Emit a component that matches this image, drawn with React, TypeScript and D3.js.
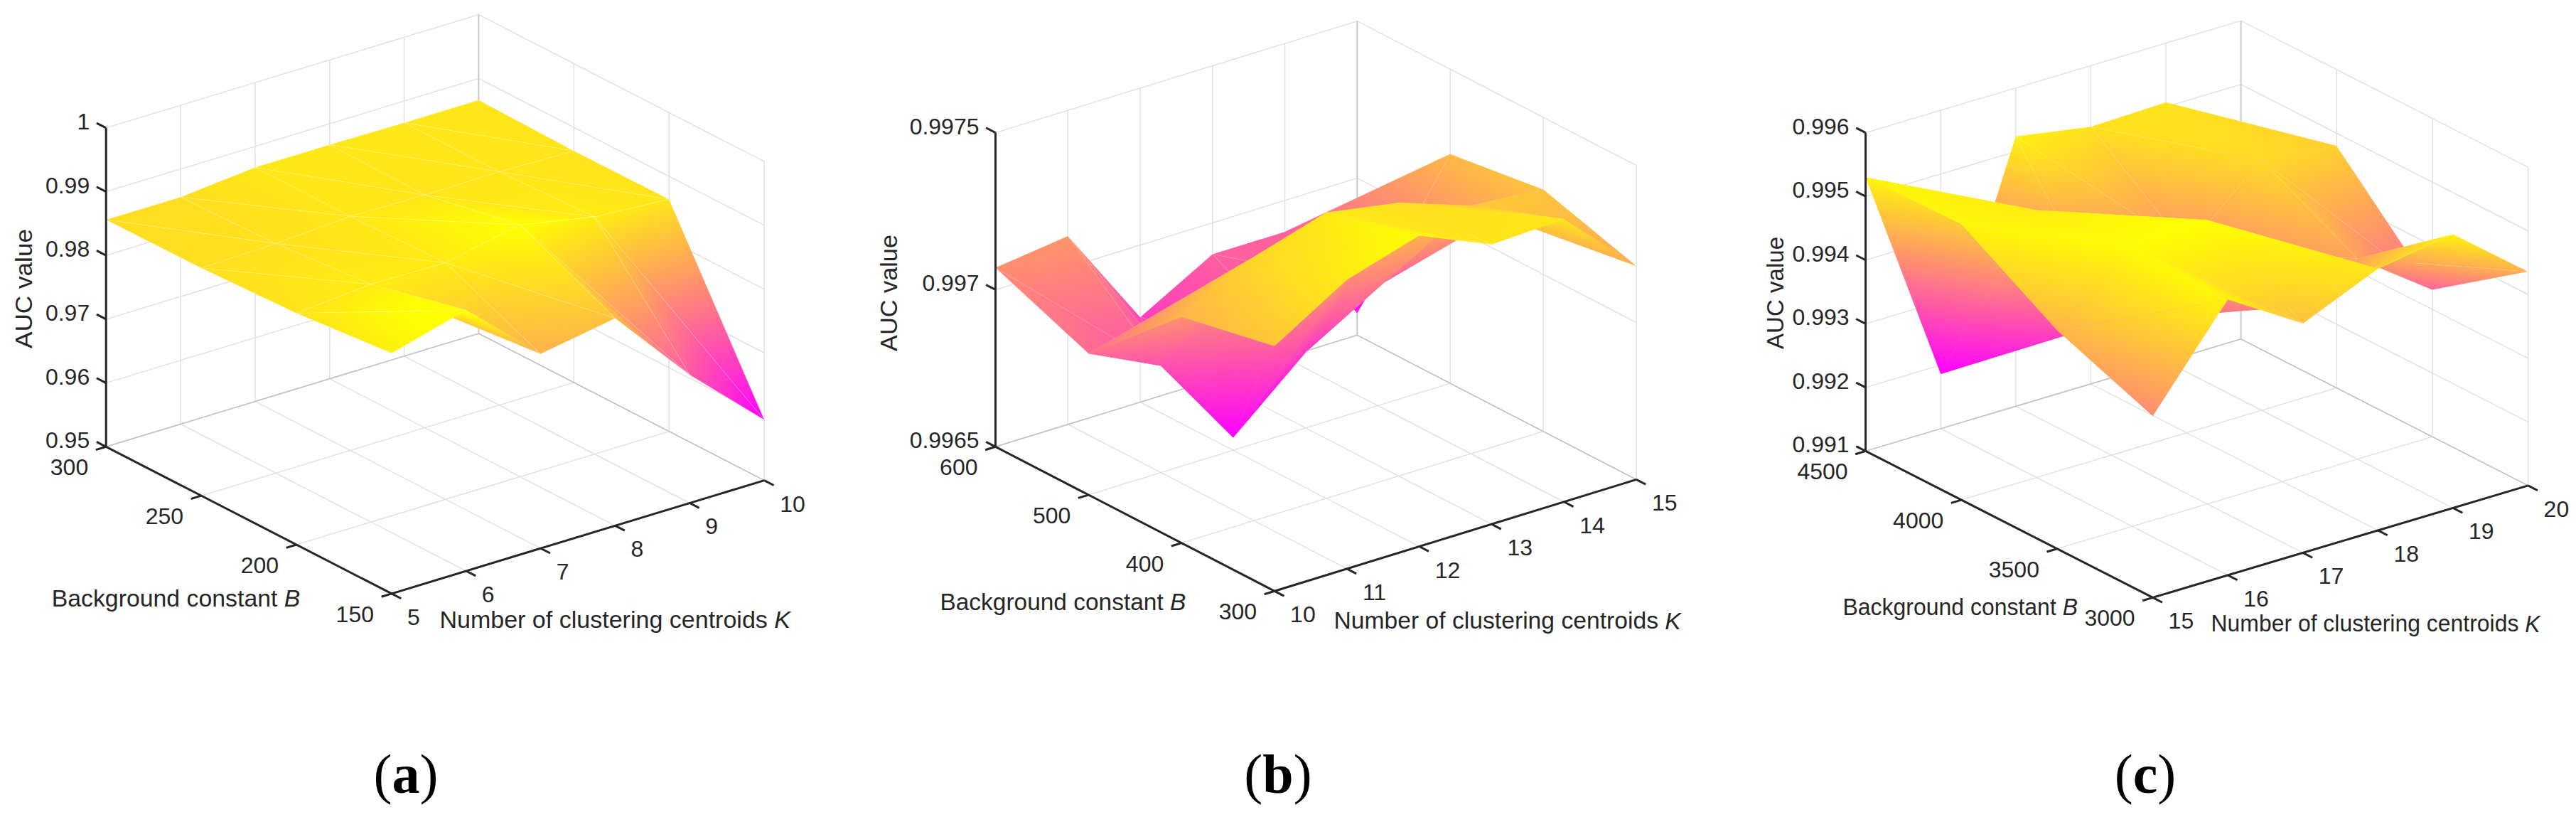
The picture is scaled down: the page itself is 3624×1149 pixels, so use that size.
import * as d3 from "d3";

// values: rows run from the largest B down to the smallest, columns along K
const kValuesA = [5, 6, 7, 8, 9, 10];
const bValuesA = [300, 250, 200, 150];
const zTicksA = [0.95, 0.96, 0.97, 0.98, 0.99, 1];
const zLabelsA = ["0.95", "0.96", "0.97", "0.98", "0.99", "1"];
const aucA = [
	[0.9856, 0.9856, 0.9867, 0.9867, 0.9866, 0.9866],
	[0.9857, 0.986, 0.9867, 0.9865, 0.9866, 0.9863],
	[0.9863, 0.9873, 0.9871, 0.9895, 0.9872, 0.9864],
	[0.9877, 0.9909, 0.9805, 0.9825, 0.9701, 0.9595],
];

const kValuesB = [10, 11, 12, 13, 14, 15];
const bValuesB = [600, 500, 400, 300];
const zTicksB = [0.9965, 0.997, 0.9975];
const zLabelsB = ["0.9965", "0.997", "0.9975"];
const aucB = [
	[0.99707, 0.9971, 0.99677, 0.9969, 0.9969, 0.99657],
	[0.99695, 0.99684, 0.99654, 0.99674, 0.99688, 0.99723],
	[0.99722, 0.99734, 0.99741, 0.99737, 0.99729, 0.99727],
	[0.99728, 0.99742, 0.99749, 0.99739, 0.9974, 0.99718],
];

const kValuesC = [15, 16, 17, 18, 19, 20];
const bValuesC = [4500, 4000, 3500, 3000];
const zTicksC = [0.991, 0.992, 0.993, 0.994, 0.995, 0.996];
const zLabelsC = ["0.991", "0.992", "0.993", "0.994", "0.995", "0.996"];
const aucC = [
	[0.9953, 0.99186, 0.99524, 0.99504, 0.99507, 0.99348],
	[0.99533, 0.9952, 0.9931, 0.9939, 0.99493, 0.9948],
	[0.99443, 0.99542, 0.99546, 0.99373, 0.99415, 0.99331],
	[0.99385, 0.99533, 0.9946, 0.99511, 0.9953, 0.99436],
];

const panels = [
	{
		id: "a", ks: kValuesA, bs: bValuesA, zTicks: zTicksA, zLabels: zLabelsA, auc: aucA,
		colorDomain: [0.9595, 0.9895], seam: 0.22,
		origin: [551, 834.9], vK: [524.2, -159.3], vB: [-401.8, -206.6], vZ: 448.4,
		bTitle: [72.7, 841, 349.7], kTitle: [618.4, 871, 493.6], yTitle: [33, 406, 168], caption: 571,
	},
	{
		id: "b", ks: kValuesB, bs: bValuesB, zTicks: zTicksB, zLabels: zLabelsB, auc: aucB,
		colorDomain: [0.99654, 0.99749], seam: 0.08,
		origin: [1793.1, 831.3], vK: [508.9, -156.9], vB: [-392.6, -203], vZ: 441.7,
		bTitle: [1322.4, 846.4, 346], kTitle: [1876.5, 872.5, 488.3], yTitle: [1250, 412, 164], caption: 1798,
	},
	{
		id: "c", ks: kValuesC, bs: bValuesC, zTicks: zTicksC, zLabels: zLabelsC, auc: aucC,
		colorDomain: [0.99186, 0.99546], seam: 0.08,
		origin: [3028.6, 840.4], vK: [528, -157.5], vB: [-404, -206], vZ: 447.7,
		bTitle: [2592.4, 853, 330.6], kTitle: [3110.5, 876.7, 463], yTitle: [2497, 412, 158], caption: 3018,
	},
];

const ink = "#262626";
const gridColor = "#e2e2e2";
const backEdge = "#c4c4c4";
const fontFamily = "'Liberation Sans', Arial, sans-serif";
const tickFont = 32;
const titleFont = 33;
const spring = d3.interpolateRgb("#ff00ff", "#ffff00");
const line = d3.line();

// turns a triangle with a height colour at each corner into a userSpace linear gradient
const triangleGradient = (pts, ts) => {
	const [[x0, y0], [x1, y1], [x2, y2]] = pts;
	const det = (x1 - x0) * (y2 - y0) - (x2 - x0) * (y1 - y0);
	if (Math.abs(det) < 1e-6) return null;
	const a = ((ts[1] - ts[0]) * (y2 - y0) - (ts[2] - ts[0]) * (y1 - y0)) / det;
	const b = ((ts[2] - ts[0]) * (x1 - x0) - (ts[1] - ts[0]) * (x2 - x0)) / det;
	const len = a * a + b * b;
	if (len < 1e-12) return null;
	return {
		x1: x0 - (a * ts[0]) / len,
		y1: y0 - (b * ts[0]) / len,
		x2: x0 + (a * (1 - ts[0])) / len,
		y2: y0 + (b * (1 - ts[0])) / len,
	};
};

const Panel = ({p}) => {
	const kScale = d3.scaleLinear().domain(d3.extent(p.ks)).range([0, 1]);
	const bScale = d3.scaleLinear().domain(d3.extent(p.bs)).range([0, 1]);
	const zScale = d3.scaleLinear().domain(d3.extent(p.zTicks)).range([0, 1]);
	const colorScale = d3.scaleLinear().domain(p.colorDomain).range([0, 1]);

	const project = (k, b, z) => {
		const u = kScale(k);
		const v = bScale(b);
		return [
			p.origin[0] + u * p.vK[0] + v * p.vB[0],
			p.origin[1] + u * p.vK[1] + v * p.vB[1] - zScale(z) * p.vZ,
		];
	};

	const kMin = p.ks[0];
	const kMax = p.ks[p.ks.length - 1];
	const bMax = p.bs[0];
	const bMin = p.bs[p.bs.length - 1];
	const zMin = p.zTicks[0];
	const zMax = p.zTicks[p.zTicks.length - 1];

	const grid = [];
	p.ks.forEach((k) => {
		grid.push([project(k, bMin, zMin), project(k, bMax, zMin)]);
		grid.push([project(k, bMax, zMin), project(k, bMax, zMax)]);
	});
	p.bs.forEach((b) => {
		grid.push([project(kMin, b, zMin), project(kMax, b, zMin)]);
		grid.push([project(kMax, b, zMin), project(kMax, b, zMax)]);
	});
	p.zTicks.forEach((z) => {
		grid.push([project(kMin, bMax, z), project(kMax, bMax, z), project(kMax, bMin, z)]);
	});

	// back to front: far K first, far B first, and the far half of each cell first
	const triangles = [];
	for (let j = 0; j < p.bs.length - 1; j++) {
		for (let i = p.ks.length - 2; i >= 0; i--) {
			const corner = (ci, cj) => ({
				pt: project(p.ks[ci], p.bs[cj], p.auc[cj][ci]),
				t: colorScale(p.auc[cj][ci]),
			});
			const a = corner(i, j);
			const b = corner(i + 1, j);
			const c = corner(i + 1, j + 1);
			const d = corner(i, j + 1);
			triangles.push([a, b, c], [a, d, c]);
		}
	}

	const kDir = Math.hypot(p.vK[0], p.vK[1]);
	const bDir = Math.hypot(p.vB[0], p.vB[1]);
	const tickLen = 15;
	const alongB = [(p.vB[0] / bDir) * tickLen, (p.vB[1] / bDir) * tickLen];
	const alongK = [(p.vK[0] / kDir) * tickLen, (p.vK[1] / kDir) * tickLen];

	const zTickMarks = p.zTicks.map((z) => {
		const pt = project(kMin, bMax, z);
		return {pt, end: [pt[0] + alongB[0], pt[1] + alongB[1]]};
	});
	const bTickMarks = p.bs.map((b) => {
		const pt = project(kMin, b, zMin);
		return {b, pt, end: [pt[0] - alongK[0], pt[1] - alongK[1]]};
	});
	const kTickMarks = p.ks.map((k) => {
		const pt = project(k, bMin, zMin);
		return {k, pt, end: [pt[0] - alongB[0], pt[1] - alongB[1]]};
	});

	return (
		<g fontFamily={fontFamily} fill={ink}>
			<g fill="none" stroke={gridColor} strokeWidth={1.5}>
				{grid.map((g, i) => (
					<path key={i} d={line(g)} />
				))}
			</g>
			<path
				d={line([project(kMin, bMax, zMin), project(kMax, bMax, zMin), project(kMax, bMin, zMin)])}
				fill="none"
				stroke={backEdge}
				strokeWidth={1.5}
			/>
			<path
				d={line([project(kMax, bMax, zMin), project(kMax, bMax, zMax)])}
				fill="none"
				stroke={backEdge}
				strokeWidth={1.5}
			/>

			<defs>
				{triangles.map((tri, i) => {
					const g = triangleGradient(tri.map((c) => c.pt), tri.map((c) => c.t));
					if (!g) return null;
					return (
						<linearGradient key={i} id={`${p.id}-tri-${i}`} gradientUnits="userSpaceOnUse" {...g}>
							<stop offset="0" stopColor={spring(0)} />
							<stop offset="1" stopColor={spring(1)} />
						</linearGradient>
					);
				})}
			</defs>
			{triangles.map((tri, i) => {
				const g = triangleGradient(tri.map((c) => c.pt), tri.map((c) => c.t));
				const fill = g ? `url(#${p.id}-tri-${i})` : spring(d3.mean(tri, (c) => c.t));
				return (
					<path
						key={i}
						d={line(tri.map((c) => c.pt)) + "Z"}
						fill={fill}
						stroke="#fff"
						strokeOpacity={p.seam}
						strokeWidth={0.7}
					/>
				);
			})}

			<g fill="none" stroke={ink} strokeWidth={3}>
				<path d={line([project(kMin, bMax, zMax), project(kMin, bMax, zMin), project(kMin, bMin, zMin), project(kMax, bMin, zMin)])} />
				{[...zTickMarks, ...bTickMarks, ...kTickMarks].map((t, i) => (
					<path key={i} d={line([t.pt, t.end])} />
				))}
			</g>

			<g fontSize={tickFont} stroke="none">
				{zTickMarks.map((t, i) => (
					<text key={i} x={t.pt[0] - 23} y={t.pt[1] - 9} textAnchor="end" dominantBaseline="central">
						{p.zLabels[i]}
					</text>
				))}
				{bTickMarks.map((t) => (
					<text key={t.b} x={t.pt[0] - 25} y={t.pt[1] + 29} textAnchor="end" dominantBaseline="central">
						{t.b}
					</text>
				))}
				{kTickMarks.map((t) => (
					<text key={t.k} x={t.pt[0] + 22} y={t.pt[1] + 33} dominantBaseline="central">
						{t.k}
					</text>
				))}
				<text x={p.bTitle[0]} y={p.bTitle[1]} dominantBaseline="central" fontSize={titleFont} textLength={p.bTitle[2]} lengthAdjust="spacingAndGlyphs">
					Background constant <tspan fontStyle="italic">B</tspan>
				</text>
				<text x={p.kTitle[0]} y={p.kTitle[1]} dominantBaseline="central" fontSize={titleFont} textLength={p.kTitle[2]} lengthAdjust="spacingAndGlyphs">
					Number of clustering centroids <tspan fontStyle="italic">K</tspan>
				</text>
				<text
					transform={`translate(${p.yTitle[0]},${p.yTitle[1]}) rotate(-90)`}
					textAnchor="middle"
					dominantBaseline="central"
					fontSize={titleFont}
					textLength={p.yTitle[2]}
					lengthAdjust="spacingAndGlyphs"
				>
					AUC value
				</text>
			</g>

			<text x={p.caption} y={1115} textAnchor="middle" fontFamily="'Liberation Serif', serif" fontSize={78} fill="#000">
				(<tspan fontWeight="bold">{p.id}</tspan>)
			</text>
		</g>
	);
};

const App = () => (
	<svg width={3624} height={1149} style={{position: "absolute", left: 0, top: 0, background: "#fff"}}>
		{panels.map((p) => (
			<Panel key={p.id} p={p} />
		))}
	</svg>
);

export default App;
